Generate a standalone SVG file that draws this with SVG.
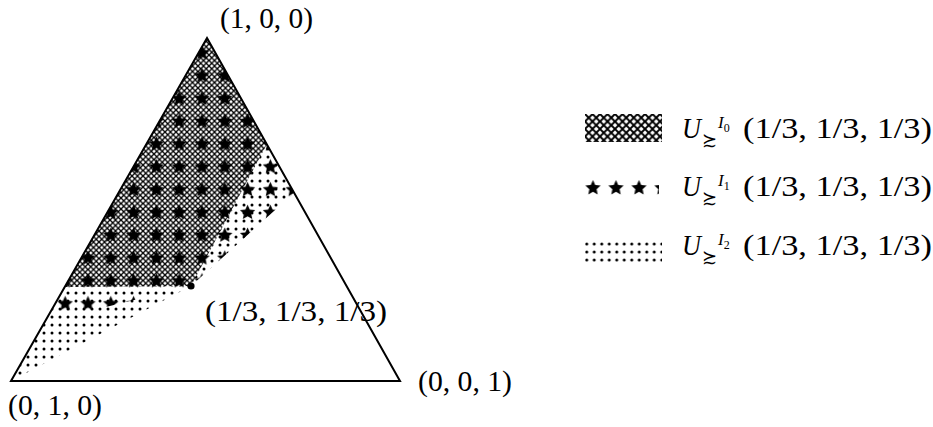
<svg xmlns="http://www.w3.org/2000/svg" xmlns:xlink="http://www.w3.org/1999/xlink" width="933" height="427" viewBox="0 0 933 427">
<style>
.lbl{font-family:"Liberation Serif","DejaVu Serif",serif;font-size:30px;fill:#000}
.it{font-style:italic}
.rel{font-family:"DejaVu Serif",serif;font-size:18px}
.sup{font-style:italic;font-size:17px}
.sub{font-size:12px}
.edge{fill:none;stroke:#000;stroke-width:2;stroke-linejoin:miter}
.hl{stroke:#000;fill:none}
</style>
<defs>
<path id="star" d="M0,-8 L2.234,-3.074 L7.608,-2.472 L3.614,1.174 L4.702,6.472 L0,3.8 L-4.702,6.472 L-3.614,1.174 L-7.608,-2.472 L-2.234,-3.074 Z" fill="#000"/>
<pattern id="xh" patternUnits="userSpaceOnUse" width="5.5" height="5.5">
<rect width="5.5" height="5.5" fill="#fff"/>
<path class="hl" stroke-width="1.3" d="M-1,-1 L6.5,6.5 M-1,6.5 L6.5,-1"/>
</pattern>
<pattern id="xhL" patternUnits="userSpaceOnUse" width="7.5" height="7.5" x="585" y="114">
<rect width="7.5" height="7.5" fill="#fff"/>
<path class="hl" stroke-width="1.9" d="M-1,-1 L8.5,8.5 M-1,8.5 L8.5,-1"/>
</pattern>
<pattern id="dots" patternUnits="userSpaceOnUse" width="8" height="8" x="0" y="1">
<circle cx="4" cy="4" r="1.5" fill="#000"/>
</pattern>
<pattern id="dotsL" patternUnits="userSpaceOnUse" width="7.5" height="8" x="583" y="240">
<circle cx="3.75" cy="4" r="1.5" fill="#000"/>
</pattern>
<pattern id="stars" patternUnits="userSpaceOnUse" width="22.8" height="22.8" x="190.6" y="41.6">
<use href="#star" x="11.4" y="11.4"/>
</pattern>
<pattern id="starsL" patternUnits="userSpaceOnUse" width="23" height="30" x="581.5" y="173">
<use href="#star" x="11.5" y="15"/>
</pattern>
</defs>

<g id="region-I2">
<polygon points="207,38 294,193 191,286 11,381" fill="url(#dots)"/>
</g>
<g id="region-I0">
<polygon points="207,38 267,144 191,286 65,287" fill="url(#xh)"/>
</g>
<g id="region-I1">
<polygon points="207,38 294,193 191,286 45,322" fill="url(#stars)"/>
</g>

<g id="triangle">
<polygon class="edge" points="207,38 400,381 11,381"/>
</g>

<g id="point-center">
<circle cx="191" cy="286" r="3.6" fill="#000"/>
</g>

<g id="labels">
<text class="lbl" x="220" y="28" textLength="93" lengthAdjust="spacingAndGlyphs">(1, 0, 0)</text>
<text class="lbl" x="205" y="321" textLength="182" lengthAdjust="spacingAndGlyphs">(1/3, 1/3, 1/3)</text>
<text class="lbl" x="8" y="415" textLength="94" lengthAdjust="spacingAndGlyphs">(0, 1, 0)</text>
<text class="lbl" x="418" y="391" textLength="94" lengthAdjust="spacingAndGlyphs">(0, 0, 1)</text>
</g>

<g id="legend-I0">
<rect x="585" y="114" width="77" height="28" fill="url(#xhL)"/>
<text class="lbl" x="682" y="138"><tspan class="it" textLength="19" lengthAdjust="spacingAndGlyphs">U</tspan><tspan class="rel" x="702" dy="8">≿</tspan><tspan class="sup" x="718" dy="-18">I</tspan><tspan class="sub" dy="4">0</tspan><tspan x="743" dy="6" textLength="189" lengthAdjust="spacingAndGlyphs">(1/3, 1/3, 1/3)</tspan></text>
</g>
<g id="legend-I1">
<rect x="585" y="176" width="74" height="28" fill="url(#starsL)"/>
<text class="lbl" x="682" y="196"><tspan class="it" textLength="19" lengthAdjust="spacingAndGlyphs">U</tspan><tspan class="rel" x="702" dy="8">≿</tspan><tspan class="sup" x="718" dy="-18">I</tspan><tspan class="sub" dy="4">1</tspan><tspan x="743" dy="6" textLength="189" lengthAdjust="spacingAndGlyphs">(1/3, 1/3, 1/3)</tspan></text>
</g>
<g id="legend-I2">
<rect x="585" y="240" width="77" height="24" fill="url(#dotsL)"/>
<text class="lbl" x="682" y="255"><tspan class="it" textLength="19" lengthAdjust="spacingAndGlyphs">U</tspan><tspan class="rel" x="702" dy="8">≿</tspan><tspan class="sup" x="718" dy="-18">I</tspan><tspan class="sub" dy="4">2</tspan><tspan x="743" dy="6" textLength="189" lengthAdjust="spacingAndGlyphs">(1/3, 1/3, 1/3)</tspan></text>
</g>
</svg>
